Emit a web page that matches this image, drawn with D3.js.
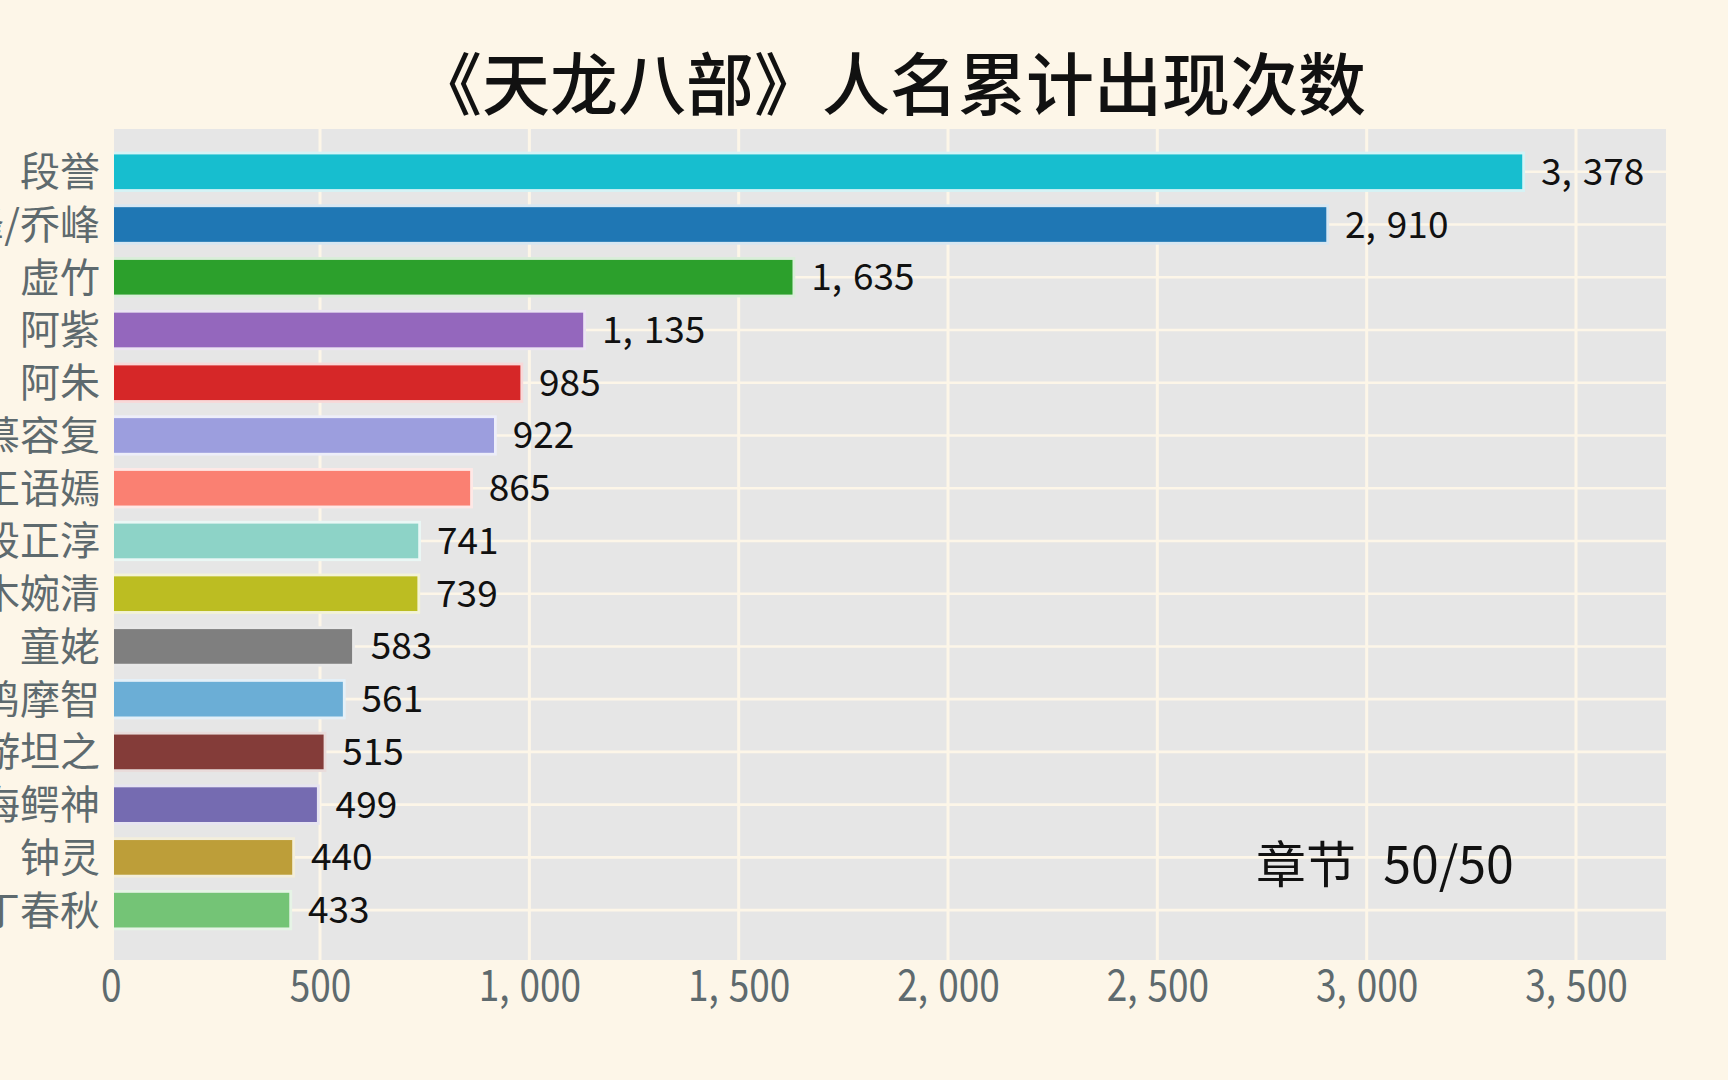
<!DOCTYPE html>
<html>
<head>
<meta charset="utf-8">
<script src="https://cdn.jsdelivr.net/npm/d3@7"></script>
<style>
  html, body { margin: 0; padding: 0; background: #FDF6E8; overflow: hidden; }
  svg { display: block; }
  text { font-family: "Noto Sans CJK SC", "Noto Sans", sans-serif; }
</style>
</head>
<body>
<svg id="chart" width="1728" height="1080"></svg>
<script>
// ---- data ----
const names = ["段誉", "萧峰/乔峰", "虚竹", "阿紫", "阿朱", "慕容复", "王语嫣", "段正淳", "木婉清", "童姥", "鸠摩智", "游坦之", "南海鳄神", "钟灵", "丁春秋"];
const values = [3378, 2910, 1635, 1135, 985, 922, 865, 741, 739, 583, 561, 515, 499, 440, 433];
const barColors = ["#17BECF", "#1F77B4", "#2CA02C", "#9467BD", "#D62728", "#9C9EDE", "#FA8072", "#8DD3C7", "#BCBD22", "#7F7F7F", "#6BAED6", "#843C39", "#756BB1", "#BD9E39", "#74C476"];
const xTicks = [0, 500, 1000, 1500, 2000, 2500, 3000, 3500];
const titleText = "《天龙八部》人名累计出现次数";
const chapterLabel = "章节";
const chapterText = "50/50";

// ---- layout ----
const W = 1728, H = 1080;
const panel = { left: 114, right: 1666, top: 129, bottom: 960 };
const bg = "#FDF6E8", panelFill = "#E6E6E6", gridCol = "#FDF6E8";
const axisCol = "#5E6A6E";

const svg = d3.select("#chart");
svg.append("rect").attr("width", W).attr("height", H).attr("fill", bg);

const x = d3.scaleLinear().domain([0, 3500]).range([110.7, 1576]);
const y = d3.scaleBand().domain(names).range([145.4, 936.5]).paddingInner(0.24).paddingOuter(0.12);

const fmt = d3.format(",");

// write a formatted number with a wider gap after each comma
function commaText(sel, v, gap) {
  const parts = fmt(v).split(",");
  sel.text(null);
  parts.forEach((p, i) => {
    if (i > 0) {
      sel.append("tspan").text(",");
      sel.append("tspan").attr("dx", gap).text(p);
    } else {
      sel.append("tspan").text(p);
    }
  });
}

svg.append("defs").append("clipPath").attr("id", "pclip")
  .append("rect").attr("x", panel.left).attr("y", panel.top)
  .attr("width", panel.right - panel.left).attr("height", panel.bottom - panel.top);

// panel
svg.append("rect").attr("x", panel.left).attr("y", panel.top)
  .attr("width", panel.right - panel.left).attr("height", panel.bottom - panel.top)
  .attr("fill", panelFill);

const g = svg.append("g").attr("clip-path", "url(#pclip)");

// horizontal gridlines at categories
g.selectAll("line.hg").data(names).join("line").attr("class", "hg")
  .attr("x1", panel.left).attr("x2", panel.right)
  .attr("y1", d => y(d) + y.bandwidth() / 2).attr("y2", d => y(d) + y.bandwidth() / 2)
  .attr("stroke", gridCol).attr("stroke-width", 2.6);

// vertical gridlines
g.selectAll("line.vg").data(xTicks).join("line").attr("class", "vg")
  .attr("x1", d => x(d)).attr("x2", d => x(d))
  .attr("y1", panel.top).attr("y2", panel.bottom)
  .attr("stroke", gridCol).attr("stroke-width", 3);

// bars
g.selectAll("rect.bar").data(values).join("rect").attr("class", "bar")
  .attr("x", x(0) - 4)
  .attr("y", (d, i) => y(names[i]) + 1.3)
  .attr("width", d => x(d) - x(0) + 4 - 1.3)
  .attr("height", y.bandwidth() - 2.6)
  .attr("fill", (d, i) => barColors[i])
  .attr("stroke", (d, i) => d3.interpolateRgb(barColors[i], "#ffffff")(0.82))
  .attr("stroke-width", 2.8);

// value labels
svg.selectAll("text.val").data(values).join("text").attr("class", "val")
  .attr("x", d => x(d) + 16)
  .attr("y", (d, i) => y(names[i]) + y.bandwidth() / 2 - 3)
  .attr("dominant-baseline", "central")
  .attr("font-size", 37)
  .attr("fill", "#111")
  .each(function(d) { commaText(d3.select(this), d, 11); });

// y-axis labels
const yAxis = d3.axisLeft(y).tickSize(0).tickPadding(0);
const yg = svg.append("g").attr("transform", "translate(100,0)").call(yAxis);
yg.select(".domain").remove();
yg.selectAll("text")
  .attr("font-size", 40)
  .attr("fill", axisCol)
  .attr("font-family", "'Noto Sans CJK SC', sans-serif")
  .attr("dy", "0.36em")
  .attr("x", 0);

// x-axis labels
const xAxis = d3.axisBottom(x).tickValues(xTicks).tickFormat(fmt).tickSize(0).tickPadding(0);
const xg = svg.append("g").attr("transform", "translate(0,960)").call(xAxis);
xg.select(".domain").remove();
xg.selectAll(".tick text")
  .attr("font-size", 37)
  .attr("fill", axisCol)
  .attr("font-family", "'Noto Sans CJK SC', sans-serif")
  .attr("y", 0)
  .attr("dy", 0)
  .attr("transform", "translate(0,41) scale(1,1.17)")
  .each(function(d) { commaText(d3.select(this), d, 10); });

// title
svg.append("text")
  .attr("x", 890).attr("y", 80)
  .attr("text-anchor", "middle")
  .attr("dominant-baseline", "central")
  .attr("font-size", 68)
  .attr("font-weight", 500)
  .attr("fill", "#111")
  .text(titleText);

// chapter annotation
const ann = svg.append("text")
  .attr("x", 1256).attr("y", 861)
  .attr("dominant-baseline", "central")
  .attr("font-size", 50)
  .attr("fill", "#111");
ann.append("tspan").text(chapterLabel);
ann.append("tspan").attr("dx", 16).text(" " + chapterText);
</script>
</body>
</html>
